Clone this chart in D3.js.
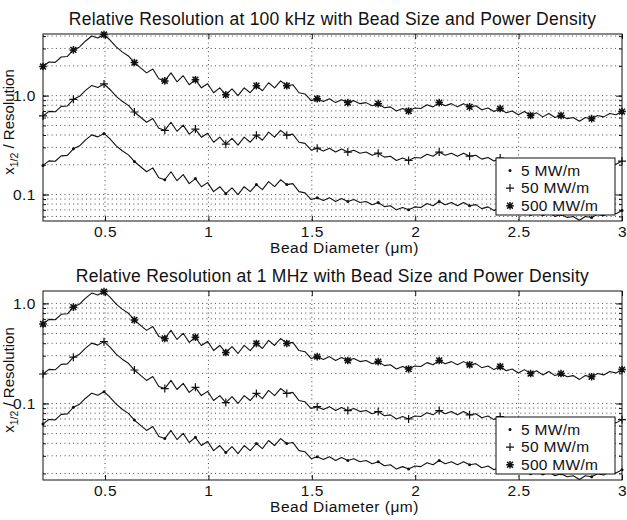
<!DOCTYPE html>
<html><head><meta charset="utf-8">
<script src="https://cdn.jsdelivr.net/npm/d3@7"></script>
<style>
body{margin:0;background:#fff}
svg{display:block}
</style>
</head><body><svg id="c" width="627" height="520"></svg>
<script>
// ---------------- DATA ----------------
const beadDiameter = [0.200,0.229,0.259,0.288,0.318,0.347,0.377,0.406,0.436,0.465,
0.495,0.524,0.554,0.583,0.613,0.642,0.672,0.701,0.731,0.760,
0.789,0.819,0.848,0.878,0.907,0.937,0.966,0.996,1.025,1.055,
1.084,1.114,1.143,1.173,1.202,1.232,1.261,1.291,1.320,1.349,
1.379,1.408,1.438,1.467,1.497,1.526,1.556,1.585,1.615,1.644,
1.674,1.703,1.733,1.762,1.792,1.821,1.851,1.880,1.909,1.939,
1.968,1.998,2.027,2.057,2.086,2.116,2.145,2.175,2.204,2.234,
2.263,2.293,2.322,2.352,2.381,2.411,2.440,2.469,2.499,2.528,
2.558,2.587,2.617,2.646,2.676,2.705,2.735,2.764,2.794,2.823,
2.853,2.882,2.912,2.941,2.971,3.000];

const seriesNames = ["5 MW/m", "50 MW/m", "500 MW/m"];

// 100 kHz
const khz100_500 = [1.97,2.19,2.17,2.46,2.49,2.90,3.11,3.57,4.01,3.83,
4.15,3.65,3.11,2.77,2.52,2.16,1.91,1.70,1.86,1.48,
1.41,1.70,1.38,1.59,1.29,1.45,1.20,1.32,1.07,1.20,
1.02,1.17,1.00,1.20,1.07,1.26,1.12,1.35,1.20,1.41,
1.26,1.29,1.07,1.04,0.89,0.93,0.87,0.93,0.85,0.91,
0.85,0.89,0.83,0.85,0.79,0.83,0.755,0.77,0.70,0.74,
0.70,0.75,0.74,0.81,0.77,0.85,0.79,0.83,0.77,0.83,
0.77,0.79,0.72,0.75,0.69,0.74,0.67,0.70,0.64,0.69,
0.63,0.67,0.61,0.66,0.60,0.63,0.585,0.60,0.55,0.60,
0.585,0.63,0.61,0.66,0.64,0.69];
const khz100_50 = [0.623,0.693,0.686,0.778,0.787,0.917,0.984,1.129,1.268,1.211,
1.312,1.154,0.984,0.876,0.797,0.683,0.604,0.538,0.588,0.468,
0.446,0.538,0.436,0.503,0.408,0.459,0.380,0.417,0.338,0.380,
0.323,0.370,0.316,0.380,0.338,0.398,0.354,0.427,0.380,0.446,
0.398,0.408,0.338,0.329,0.281,0.294,0.275,0.294,0.269,0.288,
0.269,0.281,0.262,0.269,0.250,0.262,0.239,0.244,0.221,0.234,
0.221,0.237,0.234,0.256,0.244,0.269,0.250,0.262,0.244,0.262,
0.244,0.250,0.228,0.237,0.218,0.234,0.212,0.221,0.202,0.218,
0.199,0.212,0.193,0.209,0.190,0.199,0.185,0.190,0.174,0.190,
0.185,0.199,0.193,0.209,0.202,0.218];
const khz100_5 = [0.197,0.219,0.217,0.246,0.249,0.290,0.311,0.357,0.401,0.383,
0.415,0.365,0.311,0.277,0.252,0.216,0.191,0.170,0.186,0.148,
0.141,0.170,0.138,0.159,0.129,0.145,0.120,0.132,0.107,0.120,
0.102,0.117,0.100,0.120,0.107,0.126,0.112,0.135,0.120,0.141,
0.126,0.129,0.107,0.104,0.089,0.093,0.087,0.093,0.085,0.091,
0.085,0.089,0.083,0.085,0.079,0.083,0.0755,0.077,0.070,0.074,
0.070,0.075,0.074,0.081,0.077,0.085,0.079,0.083,0.077,0.083,
0.077,0.079,0.072,0.075,0.069,0.074,0.067,0.070,0.064,0.069,
0.063,0.067,0.061,0.066,0.060,0.063,0.0585,0.060,0.055,0.060,
0.0585,0.063,0.061,0.066,0.064,0.069];

// 1 MHz
const mhz1_500 = [0.623,0.693,0.686,0.778,0.787,0.917,0.984,1.129,1.268,1.211,
1.312,1.154,0.984,0.876,0.797,0.683,0.604,0.538,0.588,0.468,
0.446,0.538,0.436,0.503,0.408,0.459,0.380,0.417,0.338,0.380,
0.323,0.370,0.316,0.380,0.338,0.398,0.354,0.427,0.380,0.446,
0.398,0.408,0.338,0.329,0.281,0.294,0.275,0.294,0.269,0.288,
0.269,0.281,0.262,0.269,0.250,0.262,0.239,0.244,0.221,0.234,
0.221,0.237,0.234,0.256,0.244,0.269,0.250,0.262,0.244,0.262,
0.244,0.250,0.228,0.237,0.218,0.234,0.212,0.221,0.202,0.218,
0.199,0.212,0.193,0.209,0.190,0.199,0.185,0.190,0.174,0.190,
0.185,0.199,0.193,0.209,0.202,0.218];
const mhz1_50 = [0.197,0.219,0.217,0.246,0.249,0.290,0.311,0.357,0.401,0.383,
0.415,0.365,0.311,0.277,0.252,0.216,0.191,0.170,0.186,0.148,
0.141,0.170,0.138,0.159,0.129,0.145,0.120,0.132,0.107,0.120,
0.102,0.117,0.100,0.120,0.107,0.126,0.112,0.135,0.120,0.141,
0.126,0.129,0.107,0.104,0.089,0.093,0.087,0.093,0.085,0.091,
0.085,0.089,0.083,0.085,0.079,0.083,0.0755,0.077,0.070,0.074,
0.070,0.075,0.074,0.081,0.077,0.085,0.079,0.083,0.077,0.083,
0.077,0.079,0.072,0.075,0.069,0.074,0.067,0.070,0.064,0.069,
0.063,0.067,0.061,0.066,0.060,0.063,0.0585,0.060,0.055,0.060,
0.0585,0.063,0.061,0.066,0.064,0.069];
const mhz1_5 = [0.0623,0.0693,0.0686,0.0778,0.0787,0.0917,0.0984,0.1129,0.1268,0.1211,
0.1312,0.1154,0.0984,0.0876,0.0797,0.0683,0.0604,0.0538,0.0588,0.0468,
0.0446,0.0538,0.0436,0.0503,0.0408,0.0459,0.0380,0.0417,0.0338,0.0380,
0.0323,0.0370,0.0316,0.0380,0.0338,0.0398,0.0354,0.0427,0.0380,0.0446,
0.0398,0.0408,0.0338,0.0329,0.0281,0.0294,0.0275,0.0294,0.0269,0.0288,
0.0269,0.0281,0.0262,0.0269,0.0250,0.0262,0.0239,0.0244,0.0221,0.0234,
0.0221,0.0237,0.0234,0.0256,0.0244,0.0269,0.0250,0.0262,0.0244,0.0262,
0.0244,0.0250,0.0228,0.0237,0.0218,0.0234,0.0212,0.0221,0.0202,0.0218,
0.0199,0.0212,0.0193,0.0209,0.0190,0.0199,0.0185,0.0190,0.0174,0.0190,
0.0185,0.0199,0.0193,0.0209,0.0202,0.0218];

const xTicks = [0.5, 1, 1.5, 2, 2.5, 3];
const xTickLabels = ["0.5", "1", "1.5", "2", "2.5", "3"];
const yTicks = [0.1, 1];
const yTickLabels = ["0.1", "1.0"];
const xRange = [0.2, 3.0];
const topYDomain = [0.054, 4.2];
const botYDomain = [0.0172, 1.33];
const titles = ["Relative Resolution at 100 kHz with Bead Size and Power Density",
                "Relative Resolution at 1 MHz with Bead Size and Power Density"];
const xLabel = "Bead Diameter (\u03bcm)";

// ---------------- DRAW ----------------
const FONT = '"Liberation Sans", Arial, Helvetica, sans-serif';
const INK = "#111";
const svg = d3.select("#c");
const markerTypes = ["dot", "plus", "star"];
const markerEvery = 5;

function drawMarker(g, type, cx, cy) {
  if (type === "dot") {
    g.append("circle").attr("cx", cx).attr("cy", cy).attr("r", 1.5).attr("fill", INK);
  } else if (type === "plus") {
    g.append("path").attr("d", `M${cx-4},${cy}H${cx+4}M${cx},${cy-4}V${cy+4}`)
      .attr("stroke", INK).attr("stroke-width", 1.2).attr("fill", "none");
  } else {
    const s = 3.8, d = 2.9;
    g.append("path").attr("d", `M${cx-s},${cy}H${cx+s}M${cx},${cy-s}V${cy+s}M${cx-d},${cy-d}L${cx+d},${cy+d}M${cx-d},${cy+d}L${cx+d},${cy-d}`)
      .attr("stroke", INK).attr("stroke-width", 1.5).attr("fill", "none");
  }
}

function styleAxis(sel) {
  sel.select(".domain").remove();
  sel.selectAll("line").attr("stroke", INK).attr("stroke-width", 1);
  sel.selectAll("text").attr("font-family", FONT).attr("font-size", 15.5)
    .attr("letter-spacing", 0.5).attr("fill", INK);
}

function drawPanel(p) {
  const g = svg.append("g");
  const x = d3.scaleLinear().domain(xRange).range([p.x0, p.x1]);
  const y = d3.scaleLog().domain(p.yDomain).range([p.y1, p.y0]);

  // minor grid values
  const grid = [];
  for (let e = -3; e <= 1; e++) for (let m = 1; m <= 9; m++) {
    const v = +(m * Math.pow(10, e)).toPrecision(6);
    if (v > p.yDomain[0] && v < p.yDomain[1]) grid.push(v);
  }
  const gridG = g.append("g").attr("stroke", "#333").attr("stroke-width", 0.9)
    .attr("stroke-dasharray", "1,3.3").attr("fill", "none");
  grid.forEach(v => gridG.append("line").attr("x1", p.x0).attr("x2", p.x1)
    .attr("y1", y(v)).attr("y2", y(v)));
  xTicks.filter(t => t < xRange[1]).forEach(t => gridG.append("line")
    .attr("x1", x(t)).attr("x2", x(t)).attr("y1", p.y0).attr("y2", p.y1));

  // curves
  const line = d3.line().x((d, i) => x(beadDiameter[i])).y(d => y(d));
  p.series.forEach((vals, si) => {
    g.append("path").attr("d", line(vals)).attr("fill", "none")
      .attr("stroke", INK).attr("stroke-width", 1.1).attr("stroke-linejoin", "round");
    vals.forEach((v, i) => { if (i % markerEvery === 0) drawMarker(g, markerTypes[si], x(beadDiameter[i]), y(v)); });
  });

  // axes (ticks inward)
  const bottom = g.append("g").attr("transform", `translate(0,${p.y1})`)
    .call(d3.axisBottom(x).tickValues(xTicks).tickFormat((d, i) => xTickLabels[i])
      .tickSize(-5).tickSizeOuter(0).tickPadding(5));
  styleAxis(bottom);
  const top = g.append("g").attr("transform", `translate(0,${p.y0})`)
    .call(d3.axisTop(x).tickValues(xTicks).tickFormat("").tickSize(-5).tickSizeOuter(0));
  styleAxis(top);
  const left = g.append("g").attr("transform", `translate(${p.x0},0)`)
    .call(d3.axisLeft(y).tickValues(yTicks).tickFormat((d, i) => yTickLabels[i])
      .tickSize(-6).tickSizeOuter(0).tickPadding(7));
  styleAxis(left);
  const leftMinor = g.append("g").attr("transform", `translate(${p.x0},0)`)
    .call(d3.axisLeft(y).tickValues(grid).tickFormat("").tickSize(-3).tickSizeOuter(0));
  styleAxis(leftMinor);
  const right = g.append("g").attr("transform", `translate(${p.x1},0)`)
    .call(d3.axisRight(y).tickValues(yTicks).tickFormat("").tickSize(-6).tickSizeOuter(0));
  styleAxis(right);
  const rightMinor = g.append("g").attr("transform", `translate(${p.x1},0)`)
    .call(d3.axisRight(y).tickValues(grid).tickFormat("").tickSize(-3).tickSizeOuter(0));
  styleAxis(rightMinor);

  g.append("rect").attr("x", p.x0).attr("y", p.y0).attr("width", p.x1 - p.x0)
    .attr("height", p.y1 - p.y0).attr("fill", "none").attr("stroke", INK).attr("stroke-width", 1);

  // title
  g.append("text").attr("x", (p.x0 + p.x1) / 2).attr("y", p.y0 - 9.5)
    .attr("text-anchor", "middle").attr("font-family", FONT).attr("font-size", 17.5)
    .attr("letter-spacing", 0.25).attr("fill", INK).text(p.title);
  // x label
  g.append("text").attr("x", (p.x0 + p.x1) / 2 + 12).attr("y", p.y1 + 32)
    .attr("text-anchor", "middle").attr("font-family", FONT).attr("font-size", 15.5)
    .attr("letter-spacing", 0.5).attr("fill", INK).text(xLabel);
  // y label
  const yl = g.append("text").attr("transform", `translate(13.5,${p.ylabelY}) rotate(-90)`)
    .attr("text-anchor", "middle").attr("font-family", FONT).attr("font-size", 15)
    .attr("fill", INK);
  yl.append("tspan").text("x");
  yl.append("tspan").attr("font-size", 10.5).attr("dy", 4).text("1/2");
  yl.append("tspan").attr("dy", -4).text(" / Resolution");

  // legend
  const lg = g.append("g").attr("transform", `translate(${p.legX},${p.legY})`);
  lg.append("rect").attr("x", 0).attr("y", 0).attr("width", 119).attr("height", 57)
    .attr("fill", "#fff").attr("stroke", INK).attr("stroke-width", 1);
  seriesNames.forEach((name, i) => {
    const by = 17.5 + i * 17.6;
    drawMarker(lg, markerTypes[i], 14, by - 5);
    lg.append("text").attr("x", 25).attr("y", by).attr("font-family", FONT)
      .attr("font-size", 15.5).attr("letter-spacing", 0.3).attr("fill", INK).text(name);
  });
}

drawPanel({x0: 43, x1: 622, y0: 34, y1: 221, yDomain: topYDomain, title: titles[0],
  series: [khz100_5, khz100_50, khz100_500], ylabelY: 122, legX: 496, legY: 158});
drawPanel({x0: 43, x1: 622, y0: 291, y1: 480, yDomain: botYDomain, title: titles[1],
  series: [mhz1_5, mhz1_50, mhz1_500], ylabelY: 380, legX: 496, legY: 417});
</script>
</body></html>
